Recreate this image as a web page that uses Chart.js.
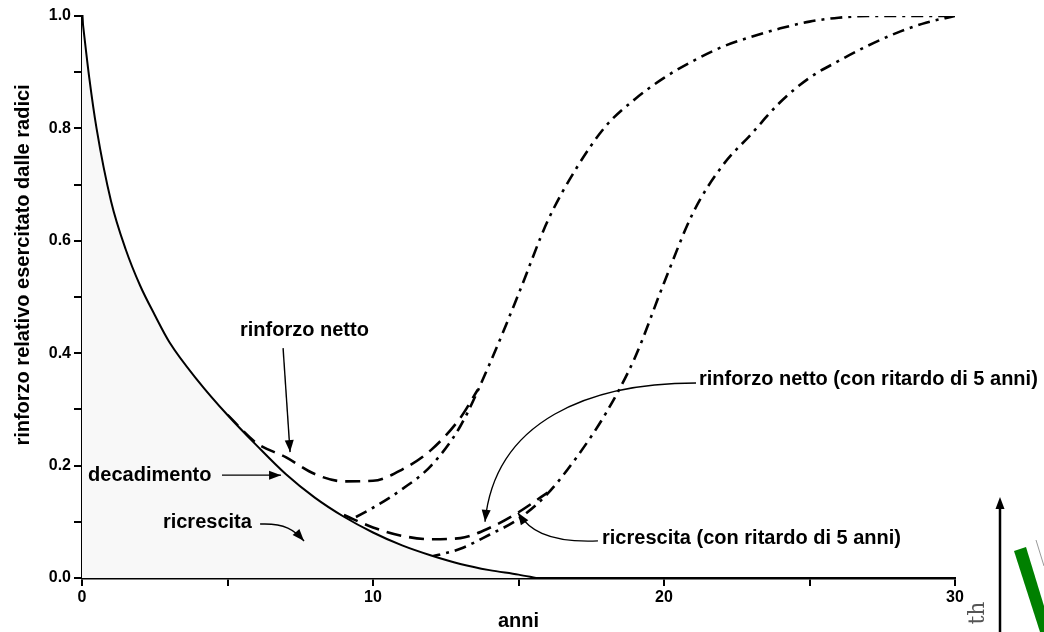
<!DOCTYPE html>
<html>
<head>
<meta charset="utf-8">
<script src="https://cdn.jsdelivr.net/npm/chart.js@4.4.1/dist/chart.umd.min.js"></script>
<style>
  html, body { margin: 0; padding: 0; background: #ffffff; }
  #wrap { width: 1044px; height: 632px; position: relative; }
  canvas { display: block; }
</style>
</head>
<body>
<div id="wrap"><canvas id="grafico" width="1044" height="632"></canvas></div>
<script>
// --- dati (anni, rinforzo relativo) ---
const anniDecadimento = [0, 0.25, 0.5, 1, 1.5, 2, 2.5, 3, 4, 5, 6, 7, 8, 9, 10, 11, 12, 13, 14, 15, 15.6];
const decadimento     = [1.0, 0.89, 0.8, 0.67, 0.585, 0.52, 0.468, 0.42, 0.35, 0.29, 0.236, 0.185, 0.143, 0.109, 0.081, 0.058, 0.04, 0.025, 0.014, 0.006, 0.0];

const anniRicrescita = [1.4, 2, 3, 4, 5, 6, 7, 8, 9, 10, 11, 12, 13, 14, 15, 16, 17, 18, 19, 20, 21, 22, 23, 24, 25, 26, 27, 28, 29, 30];
const ricrescita     = [0.0, 0.003, 0.008, 0.014, 0.025, 0.037, 0.055, 0.075, 0.098, 0.125, 0.158, 0.2, 0.27, 0.38, 0.505, 0.635, 0.73, 0.804, 0.852, 0.89, 0.92, 0.945, 0.963, 0.978, 0.99, 0.997, 1.0, 1.0, 1.0, 1.0];

const anniNetto = [5, 6, 7, 8, 9, 10, 11, 12, 13, 13.6];
const netto     = [0.29, 0.24, 0.215, 0.185, 0.172, 0.173, 0.193, 0.228, 0.285, 0.335];

const anniRicrescitaRit = [6.4, 7, 8, 9, 10, 11, 12, 13, 14, 15, 16, 17, 18, 19, 20, 21, 22, 23, 24, 25, 26, 27, 28, 29, 30];
const ricrescitaRit     = [0.0, 0.002, 0.005, 0.01, 0.016, 0.026, 0.038, 0.052, 0.077, 0.105, 0.15, 0.215, 0.293, 0.392, 0.525, 0.65, 0.733, 0.79, 0.847, 0.89, 0.92, 0.947, 0.97, 0.988, 1.0];

const anniNettoRit = [9, 10, 11, 12, 13, 14, 15, 16];
const nettoRit     = [0.112, 0.09, 0.075, 0.069, 0.071, 0.089, 0.117, 0.152];

const tickAnni = [0, 10, 20, 30];
const tickRinforzo = [0.0, 0.2, 0.4, 0.6, 0.8, 1.0];

const punti = (xs, ys) => xs.map((x, i) => ({ x: x, y: ys[i] }));

const FONT = '"Liberation Sans", Arial, sans-serif';

// etichette con frecce, in coordinate (anni, rinforzo)
const etichette = [
  { testo: 'rinforzo netto', t: 5.43, v: 0.44,
    freccia: { da: [6.91, 0.409], a: [7.15, 0.224] } },
  { testo: 'decadimento', t: 0.21, v: 0.183,
    freccia: { da: [4.81, 0.183], a: [6.84, 0.183] } },
  { testo: 'ricrescita', t: 2.78, v: 0.098,
    freccia: { da: [6.12, 0.096], c1: [6.98, 0.098], c2: [7.3, 0.085], a: [7.63, 0.066] } },
  { testo: 'rinforzo netto (con ritardo di 5 anni)', t: 21.2, v: 0.354,
    freccia: { da: [21.1, 0.347], c1: [17.46, 0.347], c2: [14.19, 0.281], a: [13.85, 0.1] } },
  { testo: 'ricrescita (con ritardo di 5 anni)', t: 17.87, v: 0.071,
    freccia: { da: [17.73, 0.066], c1: [15.91, 0.062], c2: [15.33, 0.089], a: [14.98, 0.116] } }
];

function punta(ctx, x, y, ang) {
  const L = 12, W = 4.5;
  ctx.beginPath();
  ctx.moveTo(x, y);
  ctx.lineTo(x - L * Math.cos(ang) + W * Math.sin(ang), y - L * Math.sin(ang) - W * Math.cos(ang));
  ctx.lineTo(x - L * Math.cos(ang) - W * Math.sin(ang), y - L * Math.sin(ang) + W * Math.cos(ang));
  ctx.closePath();
  ctx.fill();
}

const pluginEtichette = {
  id: 'etichette',
  afterDatasetsDraw(chart) {
    const { ctx, scales: { x, y } } = chart;
    const P = (p) => [x.getPixelForValue(p[0]), y.getPixelForValue(p[1])];
    ctx.save();
    ctx.fillStyle = '#000';
    ctx.strokeStyle = '#000';
    ctx.lineWidth = 1.4;
    ctx.font = 'bold 20px ' + FONT;
    ctx.textBaseline = 'middle';
    ctx.textAlign = 'left';
    etichette.forEach(e => {
      ctx.fillText(e.testo, x.getPixelForValue(e.t), y.getPixelForValue(e.v));
      const f = e.freccia;
      const a = P(f.da), b = P(f.a);
      ctx.beginPath();
      ctx.moveTo(a[0], a[1]);
      let ang;
      if (f.c1) {
        const c1 = P(f.c1), c2 = P(f.c2);
        ctx.bezierCurveTo(c1[0], c1[1], c2[0], c2[1], b[0], b[1]);
        ang = Math.atan2(b[1] - c2[1], b[0] - c2[0]);
      } else {
        ctx.lineTo(b[0], b[1]);
        ang = Math.atan2(b[1] - a[1], b[0] - a[0]);
      }
      ctx.stroke();
      punta(ctx, b[0], b[1], ang);
    });

    // titolo asse verticale
    ctx.save();
    ctx.translate(23, 265);
    ctx.rotate(-Math.PI / 2);
    ctx.textAlign = 'center';
    ctx.font = 'bold 20px ' + FONT;
    ctx.fillText('rinforzo relativo esercitato dalle radici', 0, 0);
    ctx.restore();

    // titolo asse orizzontale
    ctx.textAlign = 'center';
    ctx.font = 'bold 20px ' + FONT;
    ctx.fillText('anni', (x.left + x.right) / 2, 621);
    ctx.restore();
  },
  afterDraw(chart) {
    // frammento di figura nell'angolo in basso a destra
    const ctx = chart.ctx;
    ctx.save();
    ctx.strokeStyle = '#999';
    ctx.lineWidth = 1;
    ctx.beginPath();
    ctx.moveTo(1036, 540);
    ctx.lineTo(1044, 566);
    ctx.stroke();

    ctx.fillStyle = '#008000';
    ctx.beginPath();
    ctx.moveTo(1014, 551);
    ctx.lineTo(1026, 547);
    ctx.lineTo(1044, 606);
    ctx.lineTo(1044, 632);
    ctx.lineTo(1040, 632);
    ctx.closePath();
    ctx.fill();

    ctx.strokeStyle = '#000';
    ctx.lineWidth = 2.5;
    ctx.beginPath();
    ctx.moveTo(1000, 506);
    ctx.lineTo(1000, 632);
    ctx.stroke();
    ctx.fillStyle = '#000';
    punta(ctx, 1000, 497, -Math.PI / 2);

    ctx.translate(978, 613);
    ctx.rotate(-Math.PI / 2);
    ctx.fillStyle = '#555';
    ctx.font = '22px "DejaVu Serif", serif';
    ctx.textAlign = 'center';
    ctx.textBaseline = 'middle';
    ctx.fillText('th', 0, 0);
    ctx.restore();
  }
};

const base = { pointRadius: 0, borderColor: '#000', fill: false, cubicInterpolationMode: 'monotone' };

new Chart(document.getElementById('grafico'), {
  type: 'line',
  data: {
    datasets: [
      Object.assign({}, base, { label: 'decadimento', data: punti(anniDecadimento, decadimento),
        borderWidth: 2, fill: 'origin', backgroundColor: '#f8f8f8' }),
      Object.assign({}, base, { label: 'ricrescita', data: punti(anniRicrescita, ricrescita),
        borderWidth: 2.6, borderDash: [12, 6, 3, 6] }),
      Object.assign({}, base, { label: 'rinforzo netto', data: punti(anniNetto, netto),
        borderWidth: 2.6, borderDash: [15, 8] }),
      Object.assign({}, base, { label: 'ricrescita (con ritardo di 5 anni)', data: punti(anniRicrescitaRit, ricrescitaRit),
        borderWidth: 2.6, borderDash: [12, 6, 3, 6] }),
      Object.assign({}, base, { label: 'rinforzo netto (con ritardo di 5 anni)', data: punti(anniNettoRit, nettoRit),
        borderWidth: 2.6, borderDash: [15, 8] })
    ]
  },
  options: {
    responsive: false,
    animation: false,
    events: [],
    layout: { padding: { left: 0, right: 89, top: 16, bottom: 0 } },
    plugins: { legend: { display: false }, tooltip: { enabled: false } },
    scales: {
      x: {
        type: 'linear', min: 0, max: 30,
        afterFit(s) { s.height = 54; },
        border: { display: true, color: '#000', width: 2.5 },
        grid: { drawOnChartArea: false, drawTicks: true, tickLength: 8, color: '#000', lineWidth: 2 },
        ticks: {
          stepSize: 5, padding: 2, color: '#000',
          font: { family: FONT, size: 16, weight: 'bold' },
          callback: (v) => tickAnni.includes(v) ? String(v) : ''
        }
      },
      y: {
        type: 'linear', min: 0, max: 1,
        afterFit(s) { s.width = 82; },
        border: { display: true, color: '#000', width: 2.5 },
        grid: { drawOnChartArea: false, drawTicks: true, tickLength: 8, color: '#000', lineWidth: 2 },
        ticks: {
          stepSize: 0.1, padding: 3, color: '#000',
          font: { family: FONT, size: 16, weight: 'bold' },
          callback: (v) => {
            const r = Math.round(v * 10) / 10;
            return tickRinforzo.some(t => Math.abs(t - r) < 1e-9) ? r.toFixed(1) : '';
          }
        }
      }
    }
  },
  plugins: [pluginEtichette]
});
</script>
</body>
</html>
